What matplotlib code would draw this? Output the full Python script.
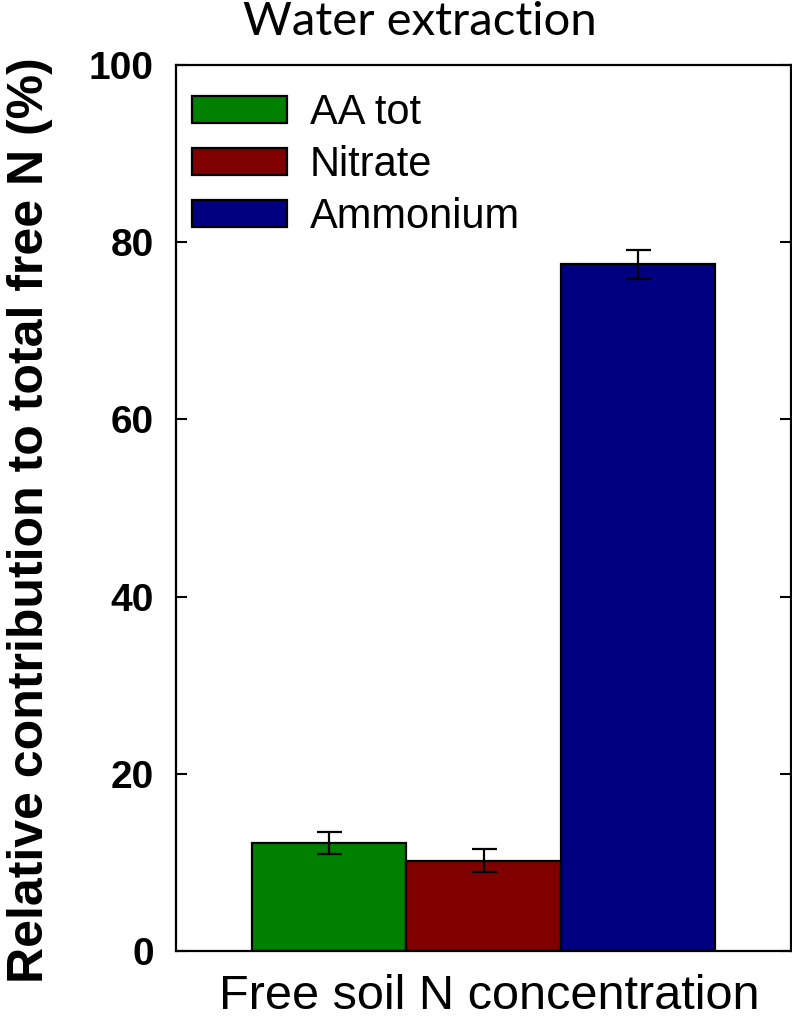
import matplotlib
matplotlib.use("Agg")
import matplotlib.pyplot as plt

# Relative contribution of each free N form (%), mean and error
labels = ["AA tot", "Nitrate", "Ammonium"]
values = [12.2, 10.2, 77.5]
errors = [1.2, 1.3, 1.6]
colors = ["#008000", "#800000", "#000080"]
yticks = [0, 20, 40, 60, 80, 100]

plt.rcParams["font.family"] = ["Liberation Sans", "DejaVu Sans"]

fig = plt.figure(figsize=(7.92, 10.19), dpi=100)
ax = fig.add_axes([176 / 792, 1 - 951 / 1019, 615 / 792, 886 / 1019])

positions = list(range(len(values)))
for pos, val, err, col, lab in zip(positions, values, errors, colors, labels):
    ax.bar(pos, val, width=1.0, color=col, edgecolor="black", linewidth=1.6,
           label=lab, zorder=2)
    ax.errorbar(pos, val, yerr=err, fmt="none", ecolor="black",
                elinewidth=1.6, capsize=9, capthick=1.6, zorder=3)

ax.set_xlim(-0.994, 2.994)
ax.set_ylim(0, 100)
ax.set_yticks(yticks)
ax.set_xticks([])
ax.tick_params(axis="y", direction="in", length=8, width=1.5, right=True,
               labelsize=28, pad=16)
for t in ax.get_yticklabels():
    t.set_fontweight("bold")
for s in ax.spines.values():
    s.set_linewidth(1.6)

ax.set_ylabel("Relative contribution to total free N (%)", fontsize=36,
              fontweight="bold")
ax.yaxis.set_label_coords((53 - 176) / 615, 0.486)
ax.set_xlabel("Free soil N concentration", fontsize=35)
ax.xaxis.set_label_coords(0.51, -0.0255)

fig.text(420 / 792, 1 - 22 / 1019, "Water extraction", fontsize=34,
         family="Lato", ha="center", va="center")

leg = ax.legend(loc="upper left", bbox_to_anchor=(16 / 615, 1 - 28 / 886),
                borderaxespad=0, frameon=False, fontsize=30,
                handlelength=2.28, handleheight=0.62, handletextpad=0.55,
                labelspacing=0.29, borderpad=0)

fig.savefig("out.png", dpi=100)
